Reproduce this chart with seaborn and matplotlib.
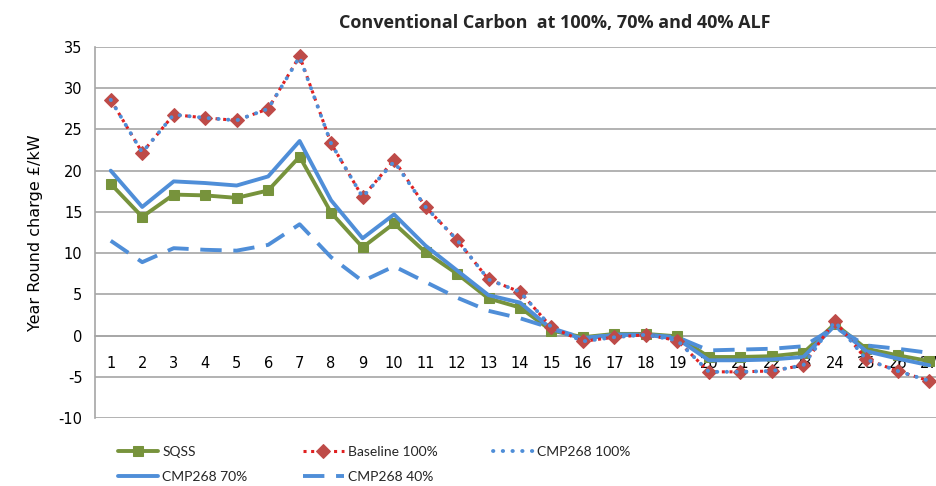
import numpy as np
import pandas as pd
import matplotlib
matplotlib.use("Agg")
import matplotlib.pyplot as plt
import seaborn as sns

# Data
zones = list(range(1, 28))
sqss = [18.4, 14.4, 17.1, 17.0, 16.7, 17.6, 21.7, 14.9, 10.7, 13.6, 10.1, 7.5, 4.5, 3.4, 0.6,
        -0.2, 0.2, 0.2, -0.1, -2.6, -2.6, -2.5, -2.1, 1.4, -1.6, -2.4, -3.1]
baseline_100 = [28.6, 22.2, 26.8, 26.4, 26.1, 27.5, 33.9, 23.3, 16.8, 21.3, 15.6, 11.6, 6.8, 5.3, 1.0,
                -0.7, -0.2, 0.1, -0.6, -4.4, -4.4, -4.3, -3.6, 1.8, -2.9, -4.3, -5.5]
cmp268_100 = [28.6, 22.2, 26.8, 26.4, 26.1, 27.5, 33.8, 23.3, 16.8, 21.1, 15.6, 11.6, 6.8, 5.3, 1.0,
              -0.7, -0.2, 0.1, -0.6, -4.4, -4.4, -4.3, -3.6, 1.7, -2.9, -4.3, -5.5]
cmp268_70 = [20.0, 15.6, 18.7, 18.5, 18.2, 19.3, 23.6, 16.4, 11.8, 14.7, 10.9, 7.9, 4.9, 4.0, 0.8,
             -0.4, 0.1, 0.1, -0.4, -3.0, -3.0, -2.9, -2.6, 1.2, -1.9, -2.8, -3.6]
cmp268_40 = [11.5, 8.9, 10.6, 10.4, 10.3, 11.0, 13.5, 9.5, 6.6, 8.4, 6.5, 4.6, 3.0, 2.1, 0.9,
             -0.3, 0.1, 0.1, -0.2, -1.8, -1.7, -1.6, -1.3, 1.0, -1.2, -1.6, -2.1]

sns.set_style("white")
plt.rcParams['font.family'] = ['DejaVu Sans']
plt.rcParams['axes.unicode_minus'] = False

W, H = 937, 486
fig = plt.figure(figsize=(W / 100, H / 100), dpi=100)
# plot area: x 95..945 px (runs off the right edge like the original), y 47..418 px
ax = fig.add_axes([95 / W, 1 - 418 / H, (945 - 95) / W, (418 - 47) / H])

green = '#77933c'
red = '#be4b48'
blue = '#4f8ed8'

sns.lineplot(x=zones, y=sqss, ax=ax, color=green, linewidth=2.8, marker='s',
             markersize=7.5, markeredgecolor=green, label='SQSS', zorder=3)
sns.lineplot(x=zones, y=baseline_100, ax=ax, color='#e02020', linewidth=2.2, linestyle=(0, (1, 1.5)),
             marker='D', markersize=7, markerfacecolor=red, markeredgecolor=red,
             label='Baseline 100%', zorder=4)
sns.lineplot(x=zones, y=cmp268_100, ax=ax, color=blue, linewidth=2.8, linestyle=(0, (0.1, 2.4)),
             dash_capstyle='round', label='CMP268 100%', zorder=5)
sns.lineplot(x=zones, y=cmp268_70, ax=ax, color=blue, linewidth=2.8, label='CMP268 70%', zorder=3)
sns.lineplot(x=zones, y=cmp268_40, ax=ax, color=blue, linewidth=2.8, linestyle=(0, (5.5, 3)),
             label='CMP268 40%', zorder=3)

grid_c = '#a6a6a6'
ax.set_xlim(0.5, 27.5)
ax.set_ylim(-10, 35)
ax.set_yticks(range(-10, 36, 5))
ax.yaxis.grid(True, color=grid_c, linewidth=1.2)
ax.set_axisbelow(True)

for s in ['top', 'right']:
    ax.spines[s].set_visible(False)
ax.spines['left'].set_color(grid_c)
ax.spines['left'].set_linewidth(1.2)
ax.spines['bottom'].set_position(('data', 0))
ax.spines['bottom'].set_color(grid_c)
ax.spines['bottom'].set_linewidth(1.2)

ax.set_xticks(zones)
ax.set_xticks(np.arange(1.5, 27.6, 1), minor=True)
ax.tick_params(axis='x', which='major', length=0, pad=15, labelsize=10.5, labelcolor='black')
ax.tick_params(axis='x', which='minor', length=6, width=1.2, color=grid_c, direction='out')
ax.tick_params(axis='y', which='major', length=5, width=1.2, color=grid_c, direction='out',
               labelsize=10.5, labelcolor='black', pad=4)
ax.set_xlabel('')
ax.set_ylabel('Year Round charge £/kW', fontsize=11.5, color='black', labelpad=11)

fig.text(555 / W, 1 - 23 / H, 'Conventional Carbon  at 100%, 70% and 40% ALF',
         ha='center', va='center', fontsize=13, fontweight='bold',
         family=['Open Sans', 'DejaVu Sans'])

handles, labels = ax.get_legend_handles_labels()
ax.get_legend().remove()
order = [0, 3, 1, 4, 2]
fig.legend([handles[i] for i in order], [labels[i] for i in order],
           loc='upper left', bbox_to_anchor=(118 / W, 1 - 446 / H), ncol=3, frameon=False,
           borderaxespad=0, borderpad=0, handlelength=2.9, handletextpad=0.3,
           columnspacing=4.0, labelspacing=0.95, prop={'family': ['Lato', 'DejaVu Sans'], 'size': 10})

fig.savefig('out.png', dpi=100)
